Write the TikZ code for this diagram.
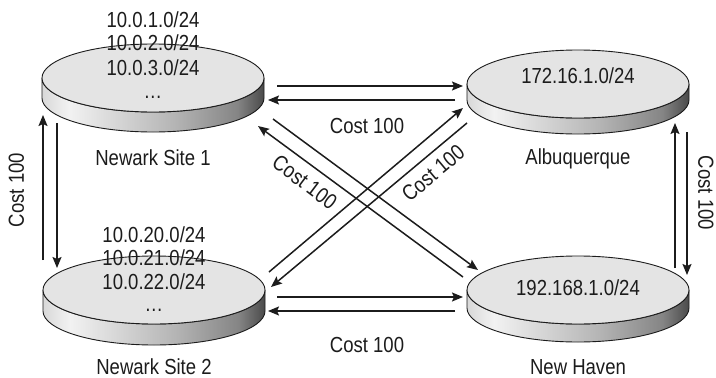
\documentclass[tikz,border=0pt]{standalone}
\usepackage{fontspec}
\setmainfont[FakeStretch=0.85]{Liberation Sans}
\usetikzlibrary{arrows.meta}
\definecolor{sideA}{HTML}{D8D8D8}
\definecolor{sideB}{HTML}{F2F2F2}
\definecolor{sideC}{HTML}{B4B4B4}
\definecolor{sideD}{HTML}{858585}
\definecolor{sideE}{HTML}{4A4A4A}
\definecolor{topface}{HTML}{E4E4E4}
\definecolor{ink}{HTML}{1C1C1C}
\pgfdeclarehorizontalshading{sideshade}{100bp}{color(0bp)=(sideA); color(25bp)=(sideA); color(31bp)=(sideB); color(55bp)=(sideC); color(69bp)=(sideD); color(75bp)=(sideE); color(100bp)=(sideE)}
\newcommand\mydisc[4]{%
  \coordinate (#1) at (#2,#3);
  \path[draw=ink, line width=0.9pt, shading=sideshade]
    (#2-111,#3) -- (#2-111,#3+#4)
    arc[start angle=180, end angle=0, x radius=111, y radius=34]
    -- (#2+111,#3)
    arc[start angle=0, end angle=180, x radius=111, y radius=34] -- cycle;
  \path[draw=ink, line width=0.9pt, fill=topface] (#1) ellipse[x radius=111, y radius=34];
}
\begin{document}
\begin{tikzpicture}[x=1pt,y=-1pt,
  lbl/.style={font=\fontsize{21.8}{24}\selectfont, inner sep=0pt, text height=15.5pt, text depth=0pt, text=ink},
  arr/.style={-{Stealth[length=11pt,width=9pt,inset=2pt]}, line width=1.5pt, draw=ink}]
\useasboundingbox (0,0) rectangle (716,378);
\fill[white] (0,0) rectangle (716,378);

% discs
\mydisc{nA}{153}{78}{20}
\mydisc{nB}{154}{290}{21}
\mydisc{alb}{578}{84}{16}
\mydisc{nh}{578}{290}{18}

% disc texts
\node[lbl] (n1a) at (153,20) {10.0.1.0/24};
\node[lbl] (n1b) at (153,43) {10.0.2.0/24};
\node[lbl] (n1c) at (153,68) {10.0.3.0/24};
\node[lbl] (n1d) at (153,91) {…};
\node[lbl] (n2a) at (154,235) {10.0.20.0/24};
\node[lbl] (n2b) at (154,258) {10.0.21.0/24};
\node[lbl] (n2c) at (154,282) {10.0.22.0/24};
\node[lbl] (n2d) at (154,304) {…};
\node[lbl] (albt) at (578,76) {172.16.1.0/24};
\node[lbl] (nht) at (578,288) {192.168.1.0/24};

% site names
\node[lbl] (n1name) at (153,158) {Newark Site 1};
\node[lbl] (n2name) at (154,367) {Newark Site 2};
\node[lbl] (albname) at (578,157) {Albuquerque};
\node[lbl] (nhname) at (578,367) {New Haven};

% arrow endpoints
\coordinate (t1s) at (277,86);  \coordinate (t1e) at (463,86);
\coordinate (t2s) at (455,100); \coordinate (t2e) at (268,100);
\coordinate (b1s) at (277,297); \coordinate (b1e) at (463,297);
\coordinate (b2s) at (455,311); \coordinate (b2e) at (268,311);
\coordinate (dAs) at (273,119); \coordinate (dAe) at (478,270);
\coordinate (dBs) at (463,277); \coordinate (dBe) at (258,126);
\coordinate (dCs) at (269,272); \coordinate (dCe) at (463,108);
\coordinate (dDs) at (467,123); \coordinate (dDe) at (271,287);
\coordinate (l1s) at (43,260);  \coordinate (l1e) at (43,115);
\coordinate (l2s) at (57,123);  \coordinate (l2e) at (57,268);
\coordinate (r1s) at (675,268); \coordinate (r1e) at (675,123);
\coordinate (r2s) at (687,132); \coordinate (r2e) at (687,275);

\draw[arr] (t1s) -- (t1e);
\draw[arr] (t2s) -- (t2e);
\draw[arr] (b1s) -- (b1e);
\draw[arr] (b2s) -- (b2e);
\draw[arr] (dAs) -- (dAe);
\draw[arr] (dBs) -- (dBe);
\draw[arr] (dCs) -- (dCe);
\draw[arr] (dDs) -- (dDe);
\draw[arr] (l1s) -- (l1e);
\draw[arr] (l2s) -- (l2e);
\draw[arr] (r1s) -- (r1e);
\draw[arr] (r2s) -- (r2e);

% cost labels
\node[lbl] (ctop) at (367,126) {Cost 100};
\node[lbl] (cbot) at (367,345) {Cost 100};
\node[lbl, rotate=90] (cleft) at (16,190) {Cost 100};
\node[lbl, rotate=-90] (cright) at (706,193) {Cost 100};
\node[lbl, rotate=-37] (cd1) at (305,182) {Cost 100};
\node[lbl, rotate=40] (cd2) at (433,173) {Cost 100};
\end{tikzpicture}
\end{document}
